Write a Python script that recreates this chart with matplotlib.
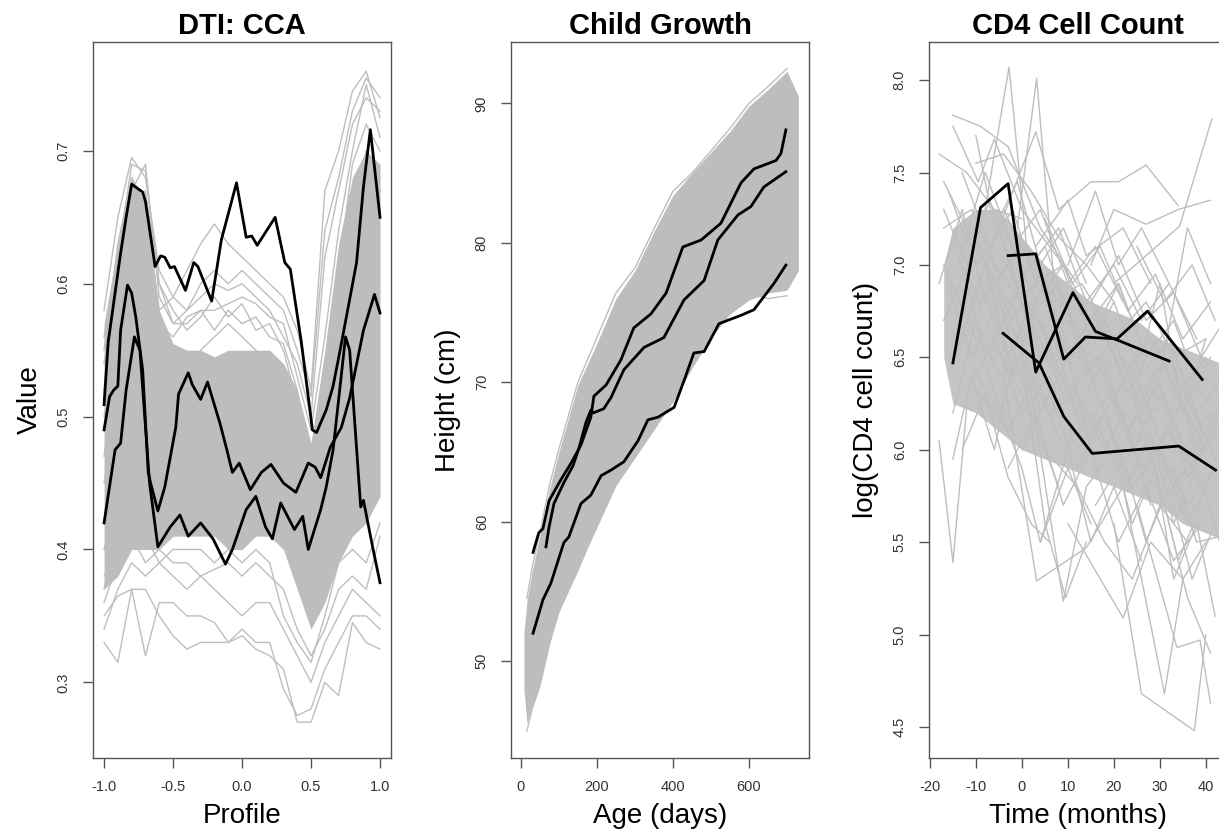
import matplotlib
matplotlib.use("Agg")
import matplotlib.pyplot as plt

plt.rcParams['font.family'] = ['Liberation Sans', 'DejaVu Sans']
plt.rcParams['axes.unicode_minus'] = False

GREY = '#bebebe'
CORE = '#bdbdbd'

# ---------------- panel 1: DTI CCA profiles ----------------
profile_x = [-1.0, -0.9, -0.8, -0.7, -0.6, -0.5, -0.4, -0.3, -0.2, -0.1, 0.0,
             0.1, 0.2, 0.3, 0.4, 0.5, 0.6, 0.7, 0.8, 0.9, 1.0]
dti_core_lo = [0.37, 0.38, 0.40, 0.40, 0.40, 0.41, 0.41, 0.41, 0.41, 0.40, 0.40,
               0.41, 0.41, 0.40, 0.37, 0.34, 0.36, 0.39, 0.41, 0.42, 0.44]
dti_core_hi = [0.57, 0.63, 0.68, 0.66, 0.58, 0.555, 0.55, 0.55, 0.545, 0.55, 0.55,
               0.55, 0.55, 0.54, 0.52, 0.48, 0.55, 0.63, 0.68, 0.70, 0.69]
dti_grey = [
    [0.58, 0.65, 0.695, 0.68, 0.61, 0.59, 0.61, 0.63, 0.645, 0.63, 0.62, 0.61, 0.60, 0.59, 0.565, 0.52, 0.67, 0.70, 0.745, 0.76, 0.725],
    [0.56, 0.62, 0.69, 0.685, 0.60, 0.57, 0.58, 0.60, 0.61, 0.60, 0.61, 0.60, 0.59, 0.58, 0.55, 0.515, 0.64, 0.68, 0.73, 0.755, 0.74],
    [0.55, 0.63, 0.68, 0.66, 0.58, 0.59, 0.58, 0.59, 0.60, 0.595, 0.60, 0.59, 0.58, 0.56, 0.54, 0.50, 0.62, 0.67, 0.72, 0.74, 0.73],
    [0.52, 0.60, 0.67, 0.69, 0.59, 0.57, 0.57, 0.58, 0.58, 0.585, 0.59, 0.585, 0.575, 0.57, 0.53, 0.49, 0.56, 0.64, 0.70, 0.75, 0.71],
    [0.47, 0.55, 0.62, 0.63, 0.57, 0.56, 0.575, 0.58, 0.565, 0.58, 0.57, 0.575, 0.56, 0.555, 0.52, 0.46, 0.49, 0.58, 0.66, 0.69, 0.67],
    [0.54, 0.61, 0.66, 0.67, 0.60, 0.58, 0.565, 0.575, 0.59, 0.575, 0.585, 0.565, 0.57, 0.55, 0.51, 0.475, 0.53, 0.61, 0.69, 0.72, 0.70],
    [0.50, 0.56, 0.63, 0.64, 0.55, 0.53, 0.54, 0.55, 0.56, 0.57, 0.56, 0.55, 0.54, 0.53, 0.50, 0.47, 0.50, 0.58, 0.66, 0.70, 0.68],
    [0.45, 0.52, 0.60, 0.60, 0.50, 0.49, 0.50, 0.51, 0.52, 0.53, 0.54, 0.52, 0.51, 0.50, 0.46, 0.43, 0.47, 0.56, 0.63, 0.67, 0.66],
    [0.42, 0.47, 0.55, 0.55, 0.46, 0.45, 0.46, 0.47, 0.48, 0.49, 0.50, 0.49, 0.48, 0.47, 0.44, 0.40, 0.44, 0.52, 0.60, 0.63, 0.62],
    [0.40, 0.44, 0.50, 0.50, 0.43, 0.43, 0.44, 0.45, 0.46, 0.45, 0.46, 0.45, 0.45, 0.44, 0.41, 0.38, 0.41, 0.48, 0.56, 0.59, 0.58],
    [0.37, 0.42, 0.47, 0.46, 0.41, 0.42, 0.43, 0.43, 0.44, 0.43, 0.44, 0.44, 0.43, 0.42, 0.39, 0.36, 0.39, 0.45, 0.52, 0.55, 0.53],
    [0.33, 0.315, 0.37, 0.37, 0.35, 0.335, 0.325, 0.33, 0.33, 0.33, 0.335, 0.325, 0.32, 0.31, 0.27, 0.27, 0.30, 0.29, 0.345, 0.33, 0.325],
    [0.35, 0.365, 0.37, 0.32, 0.36, 0.36, 0.35, 0.35, 0.345, 0.33, 0.34, 0.33, 0.33, 0.295, 0.275, 0.28, 0.31, 0.33, 0.35, 0.35, 0.34],
    [0.34, 0.37, 0.39, 0.38, 0.39, 0.38, 0.37, 0.38, 0.37, 0.36, 0.35, 0.36, 0.36, 0.34, 0.32, 0.30, 0.33, 0.35, 0.37, 0.36, 0.35],
    [0.36, 0.39, 0.41, 0.39, 0.40, 0.39, 0.39, 0.38, 0.385, 0.39, 0.38, 0.39, 0.38, 0.37, 0.34, 0.32, 0.34, 0.37, 0.38, 0.37, 0.41],
    [0.38, 0.40, 0.42, 0.41, 0.39, 0.40, 0.40, 0.40, 0.39, 0.40, 0.39, 0.40, 0.39, 0.35, 0.33, 0.315, 0.35, 0.39, 0.40, 0.39, 0.42],
]
dti_a_x = [-1.0, -0.97, -0.88, -0.84, -0.80, -0.72, -0.70, -0.63, -0.59, -0.56, -0.52, -0.49, -0.41, -0.35,
           -0.32, -0.22, -0.15, -0.04, 0.03, 0.07, 0.11, 0.24, 0.31, 0.35, 0.43, 0.51, 0.54, 0.61, 0.66,
           0.72, 0.83, 0.88, 0.93, 1.0]
dti_a_y = [0.509, 0.556, 0.623, 0.650, 0.675, 0.669, 0.662, 0.613, 0.621, 0.620, 0.612, 0.613, 0.595, 0.616,
           0.613, 0.587, 0.633, 0.676, 0.635, 0.636, 0.629, 0.650, 0.616, 0.611, 0.556, 0.490, 0.488, 0.505,
           0.523, 0.555, 0.616, 0.673, 0.716, 0.650]
dti_b_x = [-1.0, -0.96, -0.93, -0.90, -0.88, -0.83, -0.80, -0.77, -0.72, -0.68, -0.66, -0.61, -0.56, -0.48,
           -0.46, -0.39, -0.36, -0.30, -0.25, -0.16, -0.11, -0.07, -0.02, 0.06, 0.14, 0.21, 0.30, 0.39, 0.48,
           0.53, 0.57, 0.64, 0.72, 0.78, 0.88, 0.96, 1.0]
dti_b_y = [0.490, 0.515, 0.520, 0.523, 0.565, 0.599, 0.593, 0.575, 0.535, 0.458, 0.449, 0.429, 0.447, 0.492,
           0.517, 0.533, 0.524, 0.513, 0.526, 0.495, 0.475, 0.458, 0.465, 0.445, 0.458, 0.464, 0.450, 0.443,
           0.465, 0.462, 0.454, 0.477, 0.492, 0.514, 0.565, 0.592, 0.578]
dti_c_x = [-1.0, -0.92, -0.88, -0.84, -0.78, -0.74, -0.67, -0.61, -0.52, -0.45, -0.39, -0.30, -0.21, -0.12,
           -0.07, 0.03, 0.10, 0.17, 0.22, 0.28, 0.38, 0.44, 0.48, 0.57, 0.61, 0.66, 0.75, 0.78, 0.86, 0.88,
           0.95, 1.0]
dti_c_y = [0.420, 0.475, 0.480, 0.520, 0.560, 0.550, 0.450, 0.402, 0.417, 0.426, 0.410, 0.420, 0.408, 0.389,
           0.400, 0.430, 0.440, 0.417, 0.408, 0.435, 0.415, 0.425, 0.400, 0.430, 0.447, 0.475, 0.560, 0.550,
           0.432, 0.437, 0.400, 0.375]

# ---------------- panel 2: child growth ----------------
growth_age = [8, 16, 30, 50, 75, 100, 150, 200, 250, 300, 350, 400, 450, 500, 550, 600, 650, 700, 730]
growth_core_lo = [48.0, 45.5, 46.8, 48.3, 51.2, 53.5, 56.5, 59.7, 62.6, 64.6, 66.6, 68.6, 71.0, 73.2, 74.9, 75.9, 76.4, 76.6, 78.0]
growth_core_hi = [52.0, 54.3, 56.5, 59.0, 62.3, 65.0, 69.8, 72.8, 76.0, 78.0, 80.8, 83.4, 85.0, 86.5, 88.0, 89.8, 91.0, 92.3, 90.5]
growth_grey_age = [16, 30, 50, 75, 100, 150, 200, 250, 300, 350, 400, 450, 500, 550, 600, 650, 700]
growth_grey = [
    [54.5, 56.8, 59.2, 62.6, 65.2, 70.0, 73.2, 76.4, 78.2, 81.0, 83.7, 85.0, 86.6, 88.2, 90.0, 91.2, 92.5],
    [53.0, 55.5, 58.0, 61.0, 63.8, 68.0, 71.5, 74.5, 77.5, 80.0, 82.0, 84.0, 85.5, 87.0, 88.5, 89.5, 91.0],
    [45.0, 46.6, 48.2, 51.2, 53.8, 56.7, 59.6, 62.6, 64.6, 66.6, 68.7, 71.5, 73.5, 75.4, 76.4, 76.0, 76.2],
    [46.5, 48.5, 50.5, 53.5, 56.0, 59.0, 62.0, 65.0, 67.5, 69.5, 71.5, 73.5, 75.5, 77.5, 79.0, 80.0, 81.0],
    [49.5, 51.5, 54.0, 57.0, 59.5, 63.0, 66.5, 69.5, 72.0, 74.5, 76.5, 78.5, 80.5, 82.0, 84.0, 85.5, 86.5],
    [51.5, 53.5, 56.0, 59.5, 61.5, 65.5, 69.0, 72.0, 74.5, 77.5, 79.5, 81.5, 83.0, 84.5, 86.0, 87.5, 89.0],
    [47.5, 50.0, 52.5, 55.0, 57.5, 61.0, 64.0, 67.0, 70.0, 72.0, 74.0, 76.0, 78.0, 80.0, 81.5, 83.0, 84.0],
]
growth_a_age = [32, 47, 58, 74, 105, 132, 158, 184, 192, 224, 263, 297, 342, 382, 426, 474, 526, 579, 613, 671, 684, 697]
growth_a_h = [57.8, 59.2, 59.5, 61.5, 63.0, 64.2, 65.5, 67.5, 69.0, 69.8, 71.6, 73.9, 74.9, 76.4, 79.7, 80.2, 81.4,
              84.3, 85.3, 85.9, 86.4, 88.1]
growth_b_age = [66, 74, 87, 113, 137, 153, 171, 184, 190, 218, 237, 271, 324, 376, 429, 482, 518, 571, 605, 639, 697]
growth_b_h = [58.2, 59.6, 61.3, 62.8, 64.0, 65.3, 67.1, 68.0, 67.8, 68.1, 68.9, 70.9, 72.5, 73.2, 75.9, 77.3, 80.2,
              82.0, 82.6, 84.0, 85.1]
growth_c_age = [32, 58, 79, 113, 126, 158, 184, 211, 237, 271, 308, 334, 361, 403, 429, 455, 482, 521, 579, 613, 666, 697]
growth_c_h = [52.0, 54.4, 55.6, 58.5, 58.9, 61.3, 61.9, 63.3, 63.7, 64.3, 65.8, 67.3, 67.5, 68.2, 70.1, 72.1, 72.2,
              74.2, 74.8, 75.2, 77.1, 78.4]

# ---------------- panel 3: CD4 cell counts ----------------
cd4_core_t = [-17, -15, -10, -5, 0, 5, 10, 15, 20, 25, 30, 35, 40, 45]
cd4_core_lo = [6.5, 6.25, 6.2, 6.1, 6.0, 5.95, 5.9, 5.85, 5.8, 5.75, 5.7, 5.6, 5.55, 5.5]
cd4_core_hi = [7.0, 7.2, 7.3, 7.3, 7.15, 7.0, 6.9, 6.8, 6.75, 6.7, 6.6, 6.55, 6.5, 6.45]
cd4_grey_t = [
    [-15, -9, -3, 4, 12], [-15, -9.5, -6, 0, 9], [-8, -2.8, 1, 8, 16], [-1, 3.2, 7, 13],
    [-5, 3, 8, 15, 21, 27, 34], [15, 20, 27, 34, 41], [20, 27, 34.3, 41.3], [-17, -12, -6, 0, 6],
    [-18, -15, -12], [-4, 3.2, 14, 22], [2, 9, 14, 20], [20, 26, 37.5, 40], [22, 31, 35, 40],
    [25, 33.7, 38.7, 41], [10, 22, 28, 35], [-17, -10, -4, 2, 8], [-12, -6, 0, 4, 10, 15],
    [-13, -8, -3, 2, 6], [0, 5, 9.5, 14], [5, 12, 18, 24, 30, 36], [30, 36, 41], [33, 38, 43],
    [3, 10, 14, 22, 28], [10, 16, 21, 26, 32], [-10, -4, 2, 8, 14, 20], [25, 31, 37, 42],
    [30, 36, 41], [-18, -12, -6, 0],
    [-13, -8, -2, 4, 10, 17, 23, 29, 35, 41], [-16, -11, -5, 1, 7, 13, 19, 26, 32, 39],
    [-15, -9, -3, 3, 10, 16, 22, 28, 34, 40], [-12, -6, 0, 6, 12, 18, 24, 30, 36, 42],
    [-14, -7, -1, 5, 11, 17, 23, 29, 35, 41], [-17, -11, -5, 1, 7, 13, 20, 27, 33, 40],
    [-16, -10, -4, 3, 9, 15, 21, 27, 33, 39], [-11, -5, 1, 8, 14, 20, 26, 32, 38, 44],
    [18, 23, 28, 33, 38, 43], [-2, 4, 10, 16, 22, 28],
    [-17, -12, -7, -1, 5, 11], [-14, -8, -2, 4, 10, 16, 22], [-16, -9, -3, 2, 8],
    [-18, -13, -8, -3, 3, 9], [-15, -10, -5, 0, 6, 12, 18], [-13, -7, -2, 3, 9, 15, 21, 27],
    [-8, -2, 4, 10, 16, 22, 28, 34, 40], [-6, 0, 6, 12, 18, 24, 30, 36, 42],
    [-9, -3, 3, 9, 15, 21, 27, 33, 39], [-4, 2, 8, 14, 20, 26, 32, 38],
    [0, 6, 12, 18, 24, 30, 36, 42], [8, 14, 20, 26, 32, 38, 44], [12, 18, 24, 30, 36, 42],
    [15, 21, 27, 33, 39, 44], [-12, -5, 2, 9, 16, 23, 30, 37, 43], [-17, -10, -3, 4, 11, 18, 25, 32, 39],
    [20, 24, 29, 34, 39], [16, 22, 27, 32, 37, 42], [-3, 3, 9, 15, 21, 27, 33, 39],
    [5, 11, 17, 23, 29, 35, 41], [-15, -11, -6, -1, 4], [4, 10, 15, 20, 26], [24, 29, 33, 38, 42],
    [26, 30, 35, 40], [-10, -6, -1, 4, 9, 14],
]
cd4_grey_v = [
    [7.81, 7.75, 7.64, 7.2, 6.9], [7.75, 7.45, 7.68, 7.3, 7.0], [7.3, 8.07, 7.1, 6.8, 6.7], [7.2, 8.01, 6.9, 6.6],
    [7.2, 7.72, 7.3, 7.45, 7.45, 7.54, 7.32], [7.0, 7.3, 7.22, 7.3, 7.35], [6.9, 7.05, 7.21, 7.79], [7.45, 7.2, 7.0, 6.8, 6.6],
    [6.05, 5.39, 6.23], [6.4, 5.29, 5.47, 5.8], [6.3, 5.18, 5.8, 6.0], [5.6, 4.68, 4.48, 5.0], [5.8, 4.68, 5.3, 5.5],
    [5.7, 4.93, 4.97, 4.63], [5.6, 5.09, 5.5, 5.3], [7.0, 6.6, 6.5, 6.2, 5.8], [6.9, 6.3, 5.9, 5.5, 5.9, 5.6],
    [6.0, 6.3, 5.85, 5.6, 5.5], [6.5, 5.6, 5.2, 5.5], [6.0, 5.8, 5.5, 5.3, 5.7, 5.5], [5.8, 5.2, 4.9], [5.9, 5.5, 5.53],
    [7.1, 7.35, 7.05, 7.2, 6.9], [7.0, 7.4, 7.0, 7.2, 6.9], [7.55, 7.6, 7.4, 7.15, 7.0, 6.8], [7.1, 6.8, 7.0, 6.7],
    [6.4, 7.2, 6.9], [7.6, 7.5, 7.3, 7.25],
    [6.6, 7.0, 6.4, 6.7, 6.3, 6.5, 6.1, 6.4, 6.0, 6.2], [6.9, 6.5, 6.8, 6.3, 6.6, 6.1, 6.3, 5.9, 6.1, 5.8],
    [7.1, 6.8, 7.0, 6.6, 6.7, 6.4, 6.5, 6.2, 6.3, 6.0], [6.3, 6.6, 6.2, 6.4, 6.0, 6.2, 5.8, 6.0, 5.7, 5.9],
    [6.5, 6.9, 6.6, 6.9, 6.5, 6.7, 6.3, 6.6, 6.2, 6.5], [7.2, 7.3, 6.95, 7.1, 6.8, 6.9, 6.6, 6.8, 6.5, 6.6],
    [7.4, 7.0, 7.2, 6.8, 7.0, 6.6, 6.9, 6.5, 6.7, 6.3], [6.8, 7.2, 6.7, 6.9, 6.4, 6.6, 6.2, 6.5, 6.0, 6.3],
    [6.2, 5.8, 6.1, 5.6, 5.9, 5.5], [6.8, 6.2, 6.5, 5.9, 6.2, 5.7],
    [7.3, 7.0, 7.35, 6.9, 7.1, 6.7], [7.0, 7.5, 7.1, 7.3, 6.9, 7.1, 6.8], [6.4, 6.9, 6.5, 6.8, 6.4],
    [6.9, 7.3, 6.8, 7.0, 6.6, 6.8], [6.2, 6.7, 6.4, 6.5, 6.2, 6.3, 6.0], [7.5, 7.1, 7.3, 6.9, 7.0, 6.7, 6.9, 6.5],
    [7.0, 6.7, 6.95, 6.5, 6.75, 6.4, 6.6, 6.3, 6.5], [6.6, 6.9, 6.3, 6.6, 6.2, 6.45, 6.05, 6.3, 5.95],
    [6.3, 6.1, 6.4, 6.0, 6.2, 5.9, 6.1, 5.8, 6.0], [7.3, 7.0, 7.2, 6.8, 7.0, 6.7, 6.9, 6.6],
    [6.0, 6.3, 5.9, 6.2, 5.8, 6.0, 5.6, 5.9], [6.9, 6.5, 6.8, 6.4, 6.6, 6.2, 6.4], [6.2, 6.5, 6.0, 6.3, 5.85, 6.1],
    [6.8, 7.05, 6.7, 6.85, 6.5, 6.7], [6.5, 6.2, 6.7, 6.3, 6.5, 6.1, 6.35, 5.9, 6.2], [6.7, 7.1, 6.8, 6.9, 6.45, 6.7, 6.3, 6.5, 6.1],
    [6.0, 5.6, 5.9, 5.4, 5.7], [5.7, 5.95, 5.5, 5.8, 5.3, 5.6], [5.9, 6.2, 5.7, 6.0, 5.5, 5.8, 5.4, 5.6],
    [7.25, 6.9, 7.1, 6.75, 6.95, 6.6, 6.8], [5.95, 6.4, 6.0, 6.6, 6.1], [5.5, 6.0, 5.5, 5.8, 5.4], [6.3, 5.9, 5.3, 5.6, 5.1],
    [6.5, 6.9, 6.2, 6.6], [7.7, 7.2, 7.45, 7.0, 7.2, 6.9],
]
cd4_a_t = [-15.0, -9.0, -3.0, 3.0, 11.1, 16.0, 21.1, 32.0]
cd4_a_v = [6.47, 7.31, 7.44, 6.42, 6.85, 6.64, 6.59, 6.48]
cd4_b_t = [-3.0, 3.0, 9.1, 13.8, 20.7, 27.3, 39.2]
cd4_b_v = [7.05, 7.06, 6.49, 6.61, 6.60, 6.75, 6.38]
cd4_c_t = [-4.1, 3.7, 9.1, 15.3, 34.1, 42.1]
cd4_c_v = [6.63, 6.47, 6.18, 5.98, 6.02, 5.89]


def style(ax, xticks, xlabels, yticks, ylabels):
    for s in ax.spines.values():
        s.set_color('#555555')
        s.set_linewidth(1.0)
    ax.set_xticks(xticks, xlabels)
    ax.set_yticks(yticks, ylabels)
    ax.tick_params(direction='out', length=7, width=1, color='#555555',
                   labelsize=10.5, labelcolor='#333333', pad=9)
    for t in ax.get_yticklabels():
        t.set_rotation(90)
        t.set_va('center')


fig = plt.figure(figsize=(12.19, 8.32), dpi=100)
W = 0.2445
ax1 = fig.add_axes([0.0763, 0.0889, W, 0.8606])
ax2 = fig.add_axes([0.4192, 0.0889, W, 0.8606])
ax3 = fig.add_axes([0.7621, 0.0889, W, 0.8606])

# panel 1
ax1.fill_between(profile_x, dti_core_lo, dti_core_hi, color=CORE, lw=0)
for g in dti_grey:
    ax1.plot(profile_x, g, color=GREY, lw=1)
for xs, ys in [(dti_a_x, dti_a_y), (dti_b_x, dti_b_y), (dti_c_x, dti_c_y)]:
    ax1.plot(xs, ys, color='black', lw=2)
ax1.set_xlim(-1.08, 1.08)
ax1.set_ylim(0.243, 0.782)
style(ax1, [-1, -0.5, 0, 0.5, 1], ['-1.0', '-0.5', '0.0', '0.5', '1.0'],
      [0.3, 0.4, 0.5, 0.6, 0.7], ['0.3', '0.4', '0.5', '0.6', '0.7'])
ax1.set_title('DTI: CCA', fontsize=21, fontweight='bold', pad=6)
ax1.set_xlabel('Profile', fontsize=20, labelpad=6)
ax1.set_ylabel('Value', fontsize=20, labelpad=10)

# panel 2
ax2.fill_between(growth_age, growth_core_lo, growth_core_hi, color=CORE, lw=0)
for g in growth_grey:
    ax2.plot(growth_grey_age, g, color=GREY, lw=1)
for xs, ys in [(growth_a_age, growth_a_h), (growth_b_age, growth_b_h), (growth_c_age, growth_c_h)]:
    ax2.plot(xs, ys, color='black', lw=2)
ax2.set_xlim(-26, 758)
ax2.set_ylim(43.05, 94.4)
style(ax2, [0, 200, 400, 600], ['0', '200', '400', '600'],
      [50, 60, 70, 80, 90], ['50', '60', '70', '80', '90'])
ax2.set_title('Child Growth', fontsize=21, fontweight='bold', pad=6)
ax2.set_xlabel('Age (days)', fontsize=20, labelpad=6)
ax2.set_ylabel('Height (cm)', fontsize=20, labelpad=10)

# panel 3
ax3.fill_between(cd4_core_t, cd4_core_lo, cd4_core_hi, color='#c4c4c4', lw=0)
for ts, vs in zip(cd4_grey_t, cd4_grey_v):
    ax3.plot(ts, vs, color=GREY, lw=1)
for xs, ys in [(cd4_a_t, cd4_a_v), (cd4_b_t, cd4_b_v), (cd4_c_t, cd4_c_v)]:
    ax3.plot(xs, ys, color='black', lw=2)
ax3.set_xlim(-20.2, 44.6)
ax3.set_ylim(4.332, 8.206)
style(ax3, [-20, -10, 0, 10, 20, 30, 40], ['-20', '-10', '0', '10', '20', '30', '40'],
      [4.5, 5.0, 5.5, 6.0, 6.5, 7.0, 7.5, 8.0], ['4.5', '5.0', '5.5', '6.0', '6.5', '7.0', '7.5', '8.0'])
ax3.set_title('CD4 Cell Count', fontsize=21, fontweight='bold', pad=6)
ax3.set_xlabel('Time (months)', fontsize=20, labelpad=6)
ax3.set_ylabel('log(CD4 cell count)', fontsize=20, labelpad=10)

fig.savefig('out.png', dpi=100)
